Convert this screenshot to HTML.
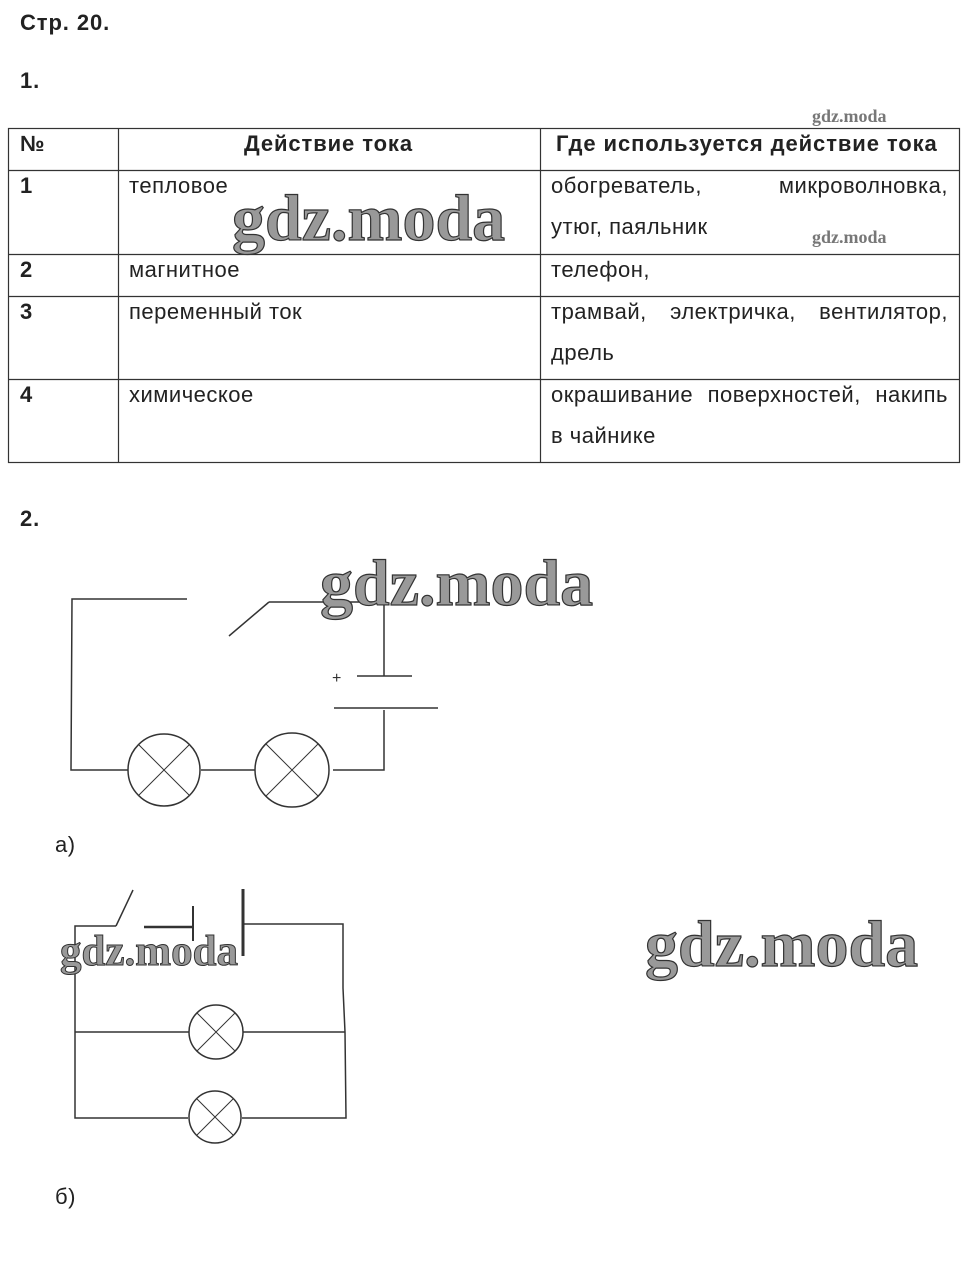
<!DOCTYPE html>
<html><head><meta charset="utf-8"><style>
body{margin:0;width:970px;height:1262px;background:#fff;position:relative;font-family:"Liberation Sans",Arial,sans-serif;color:#222;overflow:hidden}
.t{position:absolute;font-size:22px;letter-spacing:0.5px;white-space:nowrap;line-height:24px}
.b{font-weight:bold;letter-spacing:0.9px}
.j{width:397px;text-align:justify;text-align-last:justify}
.wm{position:absolute;font-family:"Liberation Serif",serif;font-weight:bold;color:#999;-webkit-text-stroke:1.2px #333;white-space:nowrap;line-height:1}
.ws{position:absolute;font-family:"Liberation Serif",serif;font-weight:bold;color:#777;font-size:18px;white-space:nowrap}
</style></head><body>
<div class="t b" style="left:20px;top:11px">Стр. 20.</div>
<div class="t b" style="left:20px;top:69px">1.</div>
<svg width="970" height="1262" style="position:absolute;left:0;top:0">
<g stroke="#333" stroke-width="1.2" fill="none">
<rect x="8.5" y="128.5" width="951" height="334"/>
<line x1="118.5" y1="128" x2="118.5" y2="462"/>
<line x1="540.5" y1="128" x2="540.5" y2="462"/>
<line x1="8" y1="170.5" x2="959" y2="170.5"/>
<line x1="8" y1="254.5" x2="959" y2="254.5"/>
<line x1="8" y1="296.5" x2="959" y2="296.5"/>
<line x1="8" y1="379.5" x2="959" y2="379.5"/>
</g>
<g stroke="#333" stroke-width="1.5" fill="none">
<polyline points="187,599 72,599 71,770 128,770"/>
<line x1="229" y1="636" x2="269" y2="602"/>
<polyline points="269,602 384,602 384,676"/>
<line x1="357" y1="676" x2="412" y2="676"/>
<line x1="334" y1="708" x2="438" y2="708"/>
<polyline points="384,710 384,770 333,770"/>
<line x1="201" y1="770" x2="255" y2="770"/>
<circle cx="164" cy="770" r="36"/><circle cx="292" cy="770" r="37"/>
<path d="M139,745 L189,795 M189,745 L139,795 M266,744 L318,796 M318,744 L266,796" stroke-width="1"/>
<polyline points="116,926 75,926 75,1118 188,1118"/>
<line x1="116" y1="926" x2="133" y2="890"/>
<line x1="144" y1="927" x2="193" y2="927" stroke-width="2.5"/>
<line x1="193" y1="906" x2="193" y2="941" stroke-width="2"/>
<line x1="243" y1="889" x2="243" y2="956" stroke-width="3"/>
<polyline points="243,924 343,924 343,988 345,1032 346,1118 242,1118"/>
<line x1="75" y1="1032" x2="189" y2="1032"/><line x1="243" y1="1032" x2="345" y2="1032"/>
<circle cx="216" cy="1032" r="27"/><circle cx="215" cy="1117" r="26"/>
<path d="M197,1013 L235,1051 M235,1013 L197,1051 M197,1099 L233,1135 M233,1099 L197,1135" stroke-width="1"/>
</g>
<text x="332" y="683" font-size="16" fill="#333" font-family="Liberation Sans">+</text>
</svg>
<div class="t b" style="left:20px;top:132px">№</div>
<div class="t b" style="left:244px;top:132px">Действие тока</div>
<div class="t b" style="left:556px;top:132px">Где используется действие тока</div>
<div class="t b" style="left:20px;top:174px">1</div>
<div class="t" style="left:129px;top:174px">тепловое</div>
<div class="t j" style="left:551px;top:174px">обогреватель, микроволновка,</div>
<div class="t" style="left:551px;top:215px">утюг, паяльник</div>
<div class="t b" style="left:20px;top:258px">2</div>
<div class="t" style="left:129px;top:258px">магнитное</div>
<div class="t" style="left:551px;top:258px">телефон,</div>
<div class="t b" style="left:20px;top:300px">3</div>
<div class="t" style="left:129px;top:300px">переменный ток</div>
<div class="t j" style="left:551px;top:300px">трамвай, электричка, вентилятор,</div>
<div class="t" style="left:551px;top:341px">дрель</div>
<div class="t b" style="left:20px;top:383px">4</div>
<div class="t" style="left:129px;top:383px">химическое</div>
<div class="t j" style="left:551px;top:383px">окрашивание поверхностей, накипь</div>
<div class="t" style="left:551px;top:424px">в чайнике</div>
<div class="t b" style="left:20px;top:507px">2.</div>
<div class="t" style="left:55px;top:833px">а)</div>
<div class="t" style="left:55px;top:1185px">б)</div>
<div class="ws" style="left:812px;top:106px">gdz.moda</div>
<div class="ws" style="left:812px;top:227px">gdz.moda</div>
<div class="wm" style="left:232px;top:186px;font-size:66px">gdz.moda</div>
<div class="wm" style="left:320px;top:551px;font-size:66px">gdz.moda</div>
<div class="wm" style="left:645px;top:912px;font-size:66px">gdz.moda</div>
<div class="wm" style="left:60px;top:930px;font-size:43px;-webkit-text-stroke:1px #333">gdz.moda</div>
</body></html>
